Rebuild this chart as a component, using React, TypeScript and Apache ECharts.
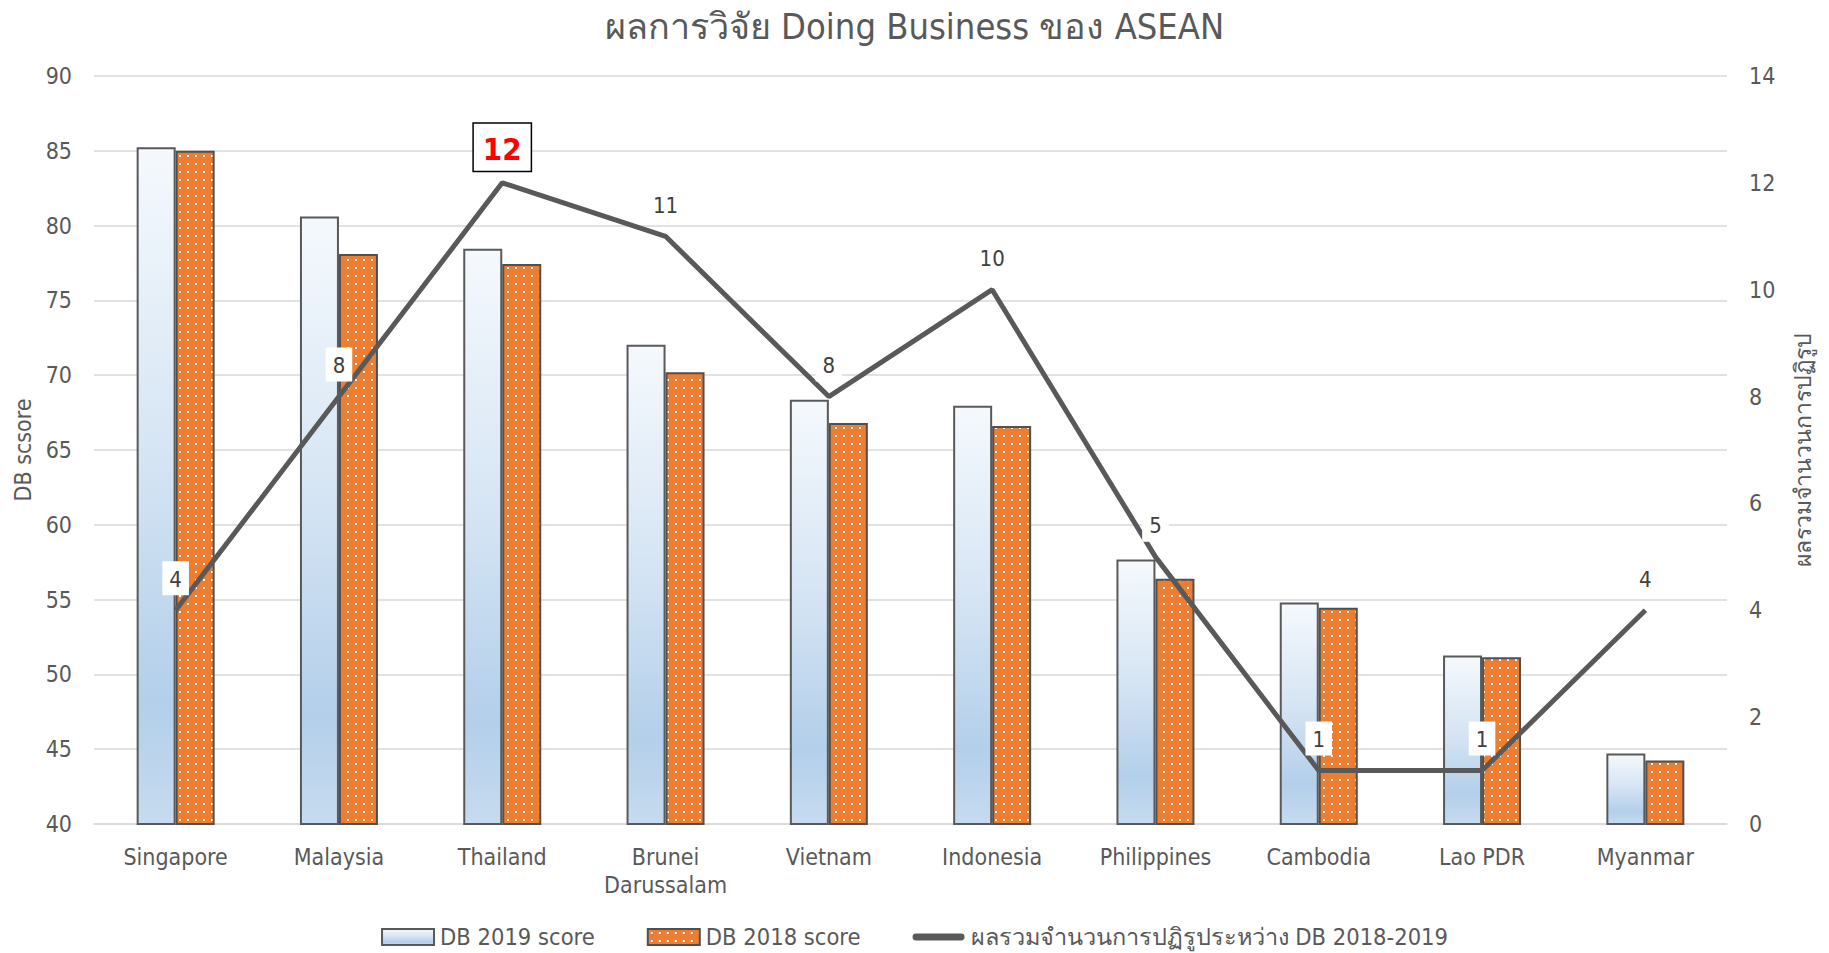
import React, { useEffect, useRef } from 'react';
import * as echarts from 'echarts';

const categories = [
  'Singapore',
  'Malaysia',
  'Thailand',
  'Brunei\nDarussalam',
  'Vietnam',
  'Indonesia',
  'Philippines',
  'Cambodia',
  'Lao PDR',
  'Myanmar',
];
const db2019 = [85.24, 80.6, 78.45, 72.03, 68.36, 67.96, 57.68, 54.8, 51.26, 44.72];
const db2018 = [85.0, 78.1, 77.44, 70.2, 66.8, 66.6, 56.4, 54.45, 51.15, 44.25];
const reforms = [4, 8, 12, 11, 8, 10, 5, 1, 1, 4];
const highlightIndex = 2;

const titleText = 'ผลการวิจัย Doing Business ของ ASEAN';
const name2019 = 'DB 2019 score';
const name2018 = 'DB 2018 score';
const nameReforms = 'ผลรวมจำนวนการปฏิรูประหว่าง DB 2018-2019';
const leftAxisName = 'DB scsore';
const rightAxisName = 'ผลรวมจำนวนการปฏิรูป';

const FONT = "'DejaVu Sans Condensed', 'DejaVu Sans', sans-serif";
const GREY = '#595959';

function makeDots(): string {
  const c = document.createElement('canvas');
  c.width = 8;
  c.height = 8;
  const ctx = c.getContext('2d')!;
  ctx.fillStyle = '#ED7D31';
  ctx.fillRect(0, 0, 8, 8);
  ctx.fillStyle = '#ffffff';
  ctx.fillRect(3, 3, 2, 2);
  return c.toDataURL();
}

export default function App() {
  const ref = useRef<HTMLDivElement>(null);
  useEffect(() => {
    if (!ref.current) return;
    const chart = echarts.init(ref.current, null, { renderer: 'svg' });
    const dots = { image: makeDots(), repeat: 'repeat', imageWidth: 8, imageHeight: 8 } as any;
    const blue = new echarts.graphic.LinearGradient(0, 0, 0, 1, [
      { offset: 0, color: '#f5f9fd' },
      { offset: 0.45, color: '#d6e5f4' },
      { offset: 0.82, color: '#b3cfea' },
      { offset: 1, color: '#c6dbef' },
    ]);
    const lineData = reforms.map((v, i) =>
      i === highlightIndex
        ? {
            value: v,
            label: {
              color: '#ff0000',
              fontWeight: 'bold',
              fontSize: 31,
              borderColor: '#000',
              borderWidth: 1.5,
              padding: [10, 9, 6, 9],
              distance: 12,
            },
          }
        : v
    );
    chart.setOption({
      animation: false,
      textStyle: { fontFamily: FONT },
      title: {
        text: titleText,
        left: 'center',
        top: 3,
        textStyle: { color: GREY, fontSize: 36, fontWeight: 'normal', fontFamily: FONT },
      },
      legend: {
        top: 920,
        left: 'center',
        itemWidth: 52,
        itemHeight: 16,
        itemGap: 52,
        textStyle: { color: GREY, fontSize: 23.5, fontFamily: FONT, padding: [0, 0, 0, 1] },
        data: [
          { name: name2019, icon: 'rect' },
          { name: name2018, icon: 'rect' },
          {
            name: nameReforms,
            icon: 'path://M0,0L0.01,0L0,0.01Z M3,4.5H49A3.5,3.5 0 0 1 49,11.5H3A3.5,3.5 0 0 1 3,4.5Z M0,16L0.01,16L0,15.99Z',
            itemStyle: { color: GREY, borderWidth: 0 },
          },
        ],
      },
      grid: { left: 94, right: 102, top: 76, bottom: 129, containLabel: false, outerBoundsMode: 'none' },
      xAxis: {
        type: 'category',
        data: categories,
        axisTick: { show: false },
        axisLine: { show: true, lineStyle: { color: '#d9d9d9', width: 1.5 } },
        axisLabel: { color: GREY, fontSize: 23, margin: 19, lineHeight: 28, fontFamily: FONT, interval: 0 },
      },
      yAxis: [
        {
          type: 'value',
          min: 40,
          max: 90,
          interval: 5,
          name: leftAxisName,
          nameLocation: 'middle',
          nameRotate: 90,
          nameGap: 59,
          nameTextStyle: { color: GREY, fontSize: 23, fontFamily: FONT },
          axisLine: { show: false },
          axisTick: { show: false },
          axisLabel: { color: GREY, fontSize: 23, margin: 22, fontFamily: FONT },
          splitLine: { lineStyle: { color: '#d9d9d9', width: 1.5 } },
        },
        {
          type: 'value',
          min: 0,
          max: 14,
          interval: 2,
          name: rightAxisName,
          nameLocation: 'middle',
          nameRotate: 90,
          nameGap: 64,
          nameTextStyle: { color: GREY, fontSize: 23, fontFamily: FONT },
          axisLine: { show: false },
          axisTick: { show: false },
          axisLabel: { color: GREY, fontSize: 23, margin: 22, fontFamily: FONT },
          splitLine: { show: false },
        },
      ],
      series: [
        {
          name: name2019,
          type: 'bar',
          data: db2019,
          barWidth: 39,
          barGap: '0%',
          itemStyle: { color: blue, borderColor: GREY, borderWidth: 2 },
        },
        {
          name: name2018,
          type: 'bar',
          data: db2018,
          barWidth: 39,
          barGap: '0%',
          itemStyle: { color: dots, borderColor: '#505050', borderWidth: 2 },
        },
        {
          name: nameReforms,
          type: 'line',
          yAxisIndex: 1,
          data: lineData,
          symbol: 'circle',
          symbolSize: 0.1,
          showSymbol: true,
          z: 5,
          lineStyle: { color: GREY, width: 5 },
          itemStyle: { color: GREY },
          label: {
            show: true,
            position: 'top',
            distance: 15,
            color: '#404040',
            fontSize: 22,
            fontFamily: FONT,
            backgroundColor: '#ffffff',
            padding: [7, 7, 5, 7],
          },
        },
      ],
    });
    return () => chart.dispose();
  }, []);
  return (
    <div
      ref={ref}
      style={{ position: 'fixed', left: 0, top: 0, width: 1829, height: 953, background: '#fff' }}
    />
  );
}
